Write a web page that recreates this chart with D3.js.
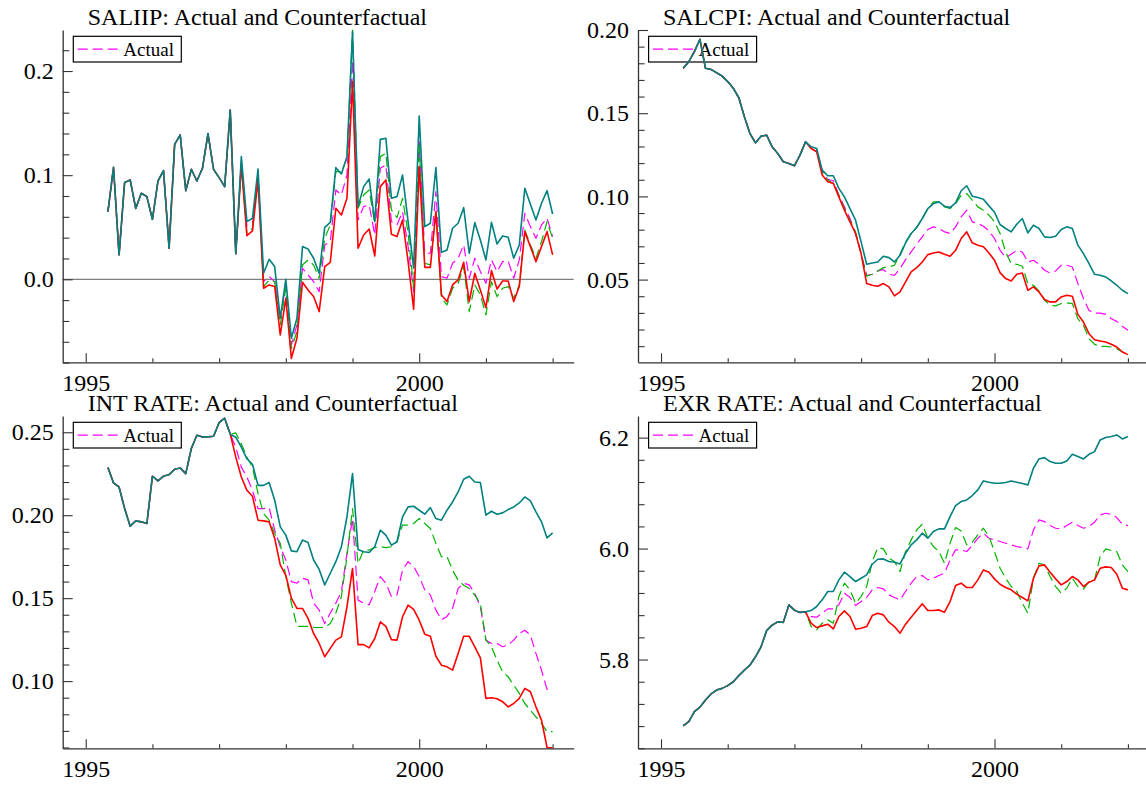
<!DOCTYPE html>
<html><head><meta charset="utf-8">
<script src="https://cdn.jsdelivr.net/npm/d3@7"></script>
<style>
body{margin:0;background:#fff}
svg{display:block;background:#fff}
text{font-family:"Liberation Serif","Times New Roman",serif;fill:#000}
</style>
</head><body>
<svg id="chart" width="1146" height="786"></svg>
<script>
// ---- time axis (monthly, 1995M5 .. 2002M1) ----
const startYear = 1995, startMonth = 5, nObs = 81;
const yearTicks = [1995, 1996, 1997, 1998, 1999, 2000, 2001, 2002];
const yearLabels = [1995, 2000];
const seriesNames = ["Actual", "", "", ""];

// ---- SALIIP ----
const saliipHist = [0.065,0.1075,0.0234,0.093,0.0954,0.068,0.0826,0.0794,0.0576,0.0944,
  0.1043,0.0298,0.1296,0.1386,0.0851,0.1056,0.0944,0.1066,0.140,0.1056,
  0.0976,0.089,0.1626,0.0245];
const saliipActual = [0.1130,0.0506,0.0522,0.1002,-0.0022,0.0026,-0.0022,-0.0374,-0.0054,-0.0630,
  -0.0438,0.0106,0.0042,-0.0022,-0.0118,0.0330,0.0362,0.0858,0.0810,0.1002,
  0.210,0.0570,0.0698,0.0714,0.0426,0.1066,0.1098,0.0554,0.0522,0.0650,
  0.0314,-0.0118,0.1322,0.0250,0.0250,0.0842,0.0026,0.0010,0.0154,0.0202,
  0.0330,0.0010,0.0202,0.0074,-0.0038,0.0186,0.0074,0.0170,0.0176,0.0010,
  0.0186,0.0634,0.0506,0.0394,0.0522,0.0586,0.0410];
const saliipCf1 = [0.1178,0.0554,0.0586,0.1059,0.0058,0.0192,0.0122,-0.0374,0.0,-0.0566,
  -0.0374,0.0314,0.0291,0.0202,0.0058,0.0499,0.0547,0.1072,0.1011,0.1178,
  0.2378,0.0698,0.0890,0.0963,0.0554,0.1344,0.1354,0.0778,0.0794,0.1002,
  0.0554,0.0106,0.1568,0.0506,0.0538,0.1072,0.0259,0.0282,0.0490,0.0538,
  0.0688,0.0250,0.0544,0.0378,0.0186,0.0547,0.0339,0.0416,0.0403,0.0202,
  0.0330,0.0874,0.0720,0.0570,0.0730,0.0851,0.0627];
const saliipCf2 = [0.1098,0.0419,0.0464,0.0954,-0.0086,-0.0054,-0.0070,-0.0534,-0.0182,-0.0759,
  -0.0566,-0.0029,-0.0102,-0.0166,-0.0310,0.0122,0.0163,0.0682,0.0618,0.0778,
  0.190,0.0298,0.0426,0.0483,0.0224,0.0890,0.0954,0.0432,0.0410,0.0570,
  0.0170,-0.0288,0.1082,0.0115,0.0115,0.0650,-0.0150,-0.0214,-0.0054,-0.0006,
  0.0163,-0.0214,0.0058,-0.0102,-0.0272,0.0083,-0.0093,-0.0016,-0.0016,-0.0214,
  -0.0070,0.0458,0.0314,0.0170,0.0314,0.0458,0.0234];
const saliipCf3 = [0.1098,0.0442,0.0490,0.1002,-0.0070,-0.0006,-0.0022,-0.0438,-0.0086,-0.0663,
  -0.0502,0.0138,0.0186,0.0138,0.0010,0.0394,0.0522,0.1034,0.1034,0.1162,
  0.2394,0.0682,0.0810,0.0858,0.0538,0.1178,0.1210,0.0666,0.0592,0.0778,
  0.0442,-0.0086,0.1290,0.0154,0.0138,0.0650,-0.0182,-0.0246,-0.0086,-0.0038,
  0.0120,-0.0310,-0.0054,-0.0150,-0.0342,-0.0022,-0.0166,-0.0086,-0.0070,-0.0182,
  -0.0054,0.0474,0.0330,0.0202,0.0362,0.0554,0.0394];

// ---- SALCPI ----
const salcpiHist = [0.177,0.181,0.187,0.1944,0.177,0.1763,0.1743,0.1723,0.169,0.165,
  0.1593,0.1479,0.1378,0.1322,0.1362,0.1368,0.1298,0.1258,0.1208,0.1198,
  0.1184,0.1248,0.1328];
const salcpiActual = [0.1294,0.1278,0.1148,0.1102,0.1094,0.1007,0.0937,0.0867,0.0777,0.0656,
  0.0526,0.0532,0.0552,0.0560,0.0532,0.0526,0.0566,0.0620,0.0666,0.0713,
  0.0757,0.0801,0.0817,0.0807,0.0787,0.0777,0.0817,0.0877,0.0917,0.0847,
  0.0837,0.0821,0.0793,0.0747,0.0676,0.0632,0.0652,0.0676,0.0666,0.0606,
  0.0616,0.0592,0.0556,0.0540,0.0552,0.0586,0.0586,0.0576,0.0476,0.0386,
  0.0315,0.0299,0.0299,0.0291,0.0265,0.0249,0.0219,0.0195];
const salcpiCf1 = [0.1298,0.1288,0.1158,0.1124,0.1124,0.1048,0.0997,0.0927,0.0857,0.0727,
  0.0592,0.0600,0.0606,0.0640,0.0632,0.0606,0.0646,0.0721,0.0777,0.0813,
  0.0867,0.0927,0.0957,0.0967,0.0941,0.0933,0.0961,0.1034,0.1064,0.1001,
  0.0993,0.0983,0.0943,0.0905,0.0831,0.0807,0.0787,0.0833,0.0867,0.0781,
  0.0827,0.0807,0.0757,0.0753,0.0761,0.0801,0.0817,0.0807,0.0707,0.0656,
  0.0596,0.0532,0.0526,0.0516,0.0492,0.0466,0.0436,0.0416];
const salcpiCf2 = [0.1288,0.1268,0.1128,0.1088,0.1078,0.0997,0.0917,0.0847,0.0777,0.0656,
  0.0476,0.0466,0.0460,0.0476,0.0456,0.0402,0.0426,0.0486,0.0546,0.0572,
  0.0606,0.0650,0.0660,0.0666,0.0652,0.0640,0.0676,0.0747,0.0787,0.0721,
  0.0707,0.0697,0.0660,0.0616,0.0542,0.0506,0.0492,0.0532,0.0540,0.0436,
  0.0456,0.0426,0.0380,0.0366,0.0366,0.0396,0.0406,0.0400,0.0291,0.0245,
  0.0175,0.0139,0.0131,0.0125,0.0111,0.0095,0.0065,0.0049];
const salcpiCf3 = [0.1294,0.1278,0.1148,0.1098,0.1078,0.1007,0.0927,0.0857,0.0787,0.0656,
  0.0520,0.0532,0.0552,0.0572,0.0576,0.0586,0.0652,0.0727,0.0777,0.0813,
  0.0867,0.0927,0.0967,0.0967,0.0937,0.0927,0.0957,0.1007,0.1017,0.0977,
  0.0937,0.0917,0.0887,0.0847,0.0777,0.0666,0.0596,0.0592,0.0580,0.0476,
  0.0466,0.0432,0.0376,0.0346,0.0342,0.0356,0.0360,0.0356,0.0265,0.0225,
  0.0145,0.0111,0.0099,0.0099,0.0095,0.0085,0.0065,0.0055];

// ---- INT RATE ----
const intHist = [0.2287,0.2195,0.217,0.204,0.1934,0.1966,0.196,0.195,0.2235,0.2207,
  0.2235,0.2245,0.2277,0.2285,0.2251,0.2402,0.2482,0.2472,0.2472,0.2476,
  0.2558,0.2585];
const intActual = [0.2488,0.241,0.229,0.223,0.215,0.204,0.204,0.2046,0.191,0.181,
  0.173,0.160,0.159,0.162,0.161,0.147,0.1428,0.1347,0.141,0.147,
  0.154,0.177,0.198,0.1488,0.147,0.146,0.154,0.163,0.159,0.151,
  0.152,0.1669,0.172,0.169,0.163,0.155,0.152,0.1428,0.137,0.139,
  0.1438,0.1558,0.159,0.158,0.1528,0.1448,0.1247,0.1227,0.1227,0.1207,
  0.1217,0.1247,0.1287,0.1307,0.1277,0.1167,0.1066,0.095,0.095];
const intCf1 = [0.2488,0.247,0.241,0.234,0.2307,0.218,0.218,0.2197,0.209,0.193,
  0.188,0.1785,0.178,0.185,0.1835,0.173,0.1673,0.158,0.165,0.172,
  0.181,0.199,0.2251,0.1793,0.178,0.1775,0.181,0.191,0.188,0.182,
  0.184,0.199,0.205,0.2054,0.203,0.2006,0.2046,0.198,0.197,0.203,
  0.208,0.214,0.2217,0.2235,0.220,0.2197,0.200,0.2024,0.2006,0.2014,
  0.2034,0.205,0.2074,0.211,0.2086,0.202,0.196,0.1863,0.1894];
const intCf2 = [0.249,0.235,0.223,0.215,0.2114,0.197,0.1966,0.196,0.186,0.170,
  0.1638,0.150,0.1438,0.1438,0.1378,0.1287,0.1227,0.1147,0.1197,0.1247,
  0.1267,0.1448,0.1679,0.122,0.122,0.120,0.1257,0.1357,0.133,0.125,
  0.1247,0.1388,0.1458,0.1432,0.1367,0.1283,0.127,0.115,0.1096,0.1086,
  0.1066,0.1167,0.127,0.127,0.1207,0.114,0.0896,0.090,0.0894,0.0876,
  0.0845,0.0865,0.0896,0.0956,0.0936,0.0845,0.0765,0.0600,0.0598];
const intCf3 = [0.2488,0.2496,0.243,0.235,0.229,0.213,0.201,0.197,0.189,0.183,
  0.163,0.147,0.133,0.133,0.133,0.1323,0.1323,0.1323,0.1347,0.141,
  0.151,0.175,0.204,0.1709,0.179,0.179,0.1805,0.181,0.1805,0.181,
  0.184,0.194,0.194,0.195,0.198,0.195,0.192,0.183,0.175,0.175,
  0.1669,0.1608,0.1578,0.1558,0.1518,0.1468,0.1247,0.1207,0.1127,0.1056,
  0.1026,0.0976,0.0926,0.0865,0.0825,0.0785,0.0745,0.0695,0.0695];

// ---- EXR RATE ----
const exrHist = [5.6805,5.688,5.706,5.714,5.727,5.738,5.745,5.748,5.753,5.760,
  5.771,5.781,5.790,5.805,5.823,5.852,5.862,5.868,5.867,5.8985,
  5.889,5.885,5.886];
const exrActual = [5.8775,5.8763,5.8835,5.8913,5.8913,5.8986,5.9196,5.9118,5.8974,5.9046,
  5.9118,5.9256,5.9298,5.9274,5.9166,5.9118,5.9076,5.9226,5.9376,5.9496,
  5.9514,5.9436,5.9466,5.9514,5.9556,5.9796,5.9977,5.9977,5.9947,6.0055,
  6.0187,6.0277,6.0187,6.0157,6.0127,6.0097,6.0067,6.0037,6.0019,5.9995,
  6.0337,6.0517,6.0487,6.0415,6.0367,6.0355,6.0415,6.0475,6.0415,6.0367,
  6.0397,6.0475,6.0607,6.0637,6.0619,6.0559,6.0439,6.0415];
const exrCf1 = [5.8883,5.8956,5.9076,5.9226,5.9226,5.9436,5.9574,5.9496,5.9406,5.9466,
  5.9526,5.9718,5.9808,5.9814,5.9766,5.9754,5.9724,5.9917,6.0067,6.0157,
  6.0277,6.0187,6.0307,6.0355,6.0355,6.0577,6.0775,6.0847,6.0877,6.0956,
  6.1058,6.1220,6.1196,6.1178,6.1178,6.1190,6.1220,6.1196,6.1172,6.1148,
  6.1448,6.1616,6.1640,6.1568,6.1538,6.1538,6.1580,6.1700,6.1658,6.1616,
  6.1700,6.1748,6.1959,6.2001,6.2019,6.2049,6.1977,6.2019];
const exrCf2 = [5.8655,5.8577,5.8607,5.8637,5.8553,5.8775,5.8877,5.8775,5.8547,5.8565,
  5.8595,5.8793,5.8835,5.8805,5.8673,5.8595,5.8475,5.8637,5.8763,5.8883,
  5.9004,5.8883,5.8883,5.8895,5.8853,5.9046,5.9334,5.9376,5.9298,5.9298,
  5.9436,5.9616,5.9574,5.9454,5.9358,5.9298,5.9256,5.9178,5.9118,5.9058,
  5.9466,5.9688,5.9706,5.9574,5.9454,5.9346,5.9406,5.9496,5.9436,5.9316,
  5.9394,5.9436,5.9646,5.9670,5.9658,5.9538,5.9286,5.9256];
const exrCf3 = [5.8595,5.8535,5.8655,5.8715,5.8655,5.9136,5.9376,5.9256,5.9016,5.9136,
  5.9316,5.9766,6.0019,5.9995,5.9826,5.9766,5.9586,5.9947,6.0157,6.0337,
  6.0439,6.0187,6.0037,5.9947,5.9736,6.0097,6.0379,6.0319,6.0067,6.0115,
  6.0247,6.0367,6.0217,5.9947,5.9646,5.9466,5.9316,5.9226,5.9016,5.8835,
  5.9466,5.9736,5.9706,5.9496,5.9316,5.9196,5.9286,5.9466,5.9316,5.9268,
  5.9406,5.9436,5.9856,5.9995,5.9965,5.9947,5.9706,5.9586];

// ---- axis ticks ----
const saliipMajor = [0.0, 0.1, 0.2];
const saliipMinor = [-0.08,-0.06,-0.04,-0.02,0.02,0.04,0.06,0.08,0.12,0.14,0.16,0.18,0.22];
const salcpiMajor = [0.05, 0.10, 0.15, 0.20];
const salcpiMinor = [0.01,0.02,0.03,0.04,0.06,0.07,0.08,0.09,0.11,0.12,0.13,0.14,0.16,0.17,0.18,0.19];
const intMajor = [0.10, 0.15, 0.20, 0.25];
const intMinor = [0.06,0.07,0.08,0.09,0.11,0.12,0.13,0.14,0.16,0.17,0.18,0.19,0.21,0.22,0.23,0.24];
const exrMajor = [5.8, 6.0, 6.2];
const exrMinor = [5.64,5.68,5.72,5.76,5.84,5.88,5.92,5.96,6.04,6.08,6.12,6.16];

// ---- styles ----
const seriesColors = ["#ff00ff", "#008080", "#ff0000", "#00b400"];
const seriesDash = ["10,5", null, null, "10,5"];
const seriesWidth = [1.2, 1.6, 1.6, 1.2];
const drawOrder = [0, 3, 2, 1];

const times = d3.range(nObs).map(i => startYear + (startMonth - 1 + i) / 12);

const panels = [
  {title: "SALIIP: Actual and Counterfactual", hist: saliipHist,
   series: [saliipActual, saliipCf1, saliipCf2, saliipCf3],
   yDomain: [-0.0797, 0.2394], major: saliipMajor, minor: saliipMinor, fmt: d3.format(".1f"),
   zero: true, left: 62.7, top: 30},
  {title: "SALCPI: Actual and Counterfactual", hist: salcpiHist,
   series: [salcpiActual, salcpiCf1, salcpiCf2, salcpiCf3],
   yDomain: [0.0003, 0.2], major: salcpiMajor, minor: salcpiMinor, fmt: d3.format(".2f"),
   zero: false, left: 638, top: 30},
  {title: "INT RATE: Actual and Counterfactual", hist: intHist,
   series: [intActual, intCf1, intCf2, intCf3],
   yDomain: [0.0595, 0.2598], major: intMajor, minor: intMinor, fmt: d3.format(".2f"),
   zero: false, left: 62.7, top: 416},
  {title: "EXR RATE: Actual and Counterfactual", hist: exrHist,
   series: [exrActual, exrCf1, exrCf2, exrCf3],
   yDomain: [5.640, 6.239], major: exrMajor, minor: exrMinor, fmt: d3.format(".1f"),
   zero: false, left: 638, top: 416}
];

const W = 511, H = 332.3;
const svg = d3.select("#chart");
svg.append("rect").attr("width", 1146).attr("height", 786).attr("fill", "#fff");

panels.forEach(p => {
  const g = svg.append("g").attr("transform", `translate(${p.left},${p.top})`);
  const x = d3.scaleLinear().domain([1994.655, 2002.316]).range([0, W]);
  const y = d3.scaleLinear().domain(p.yDomain).range([H, 0]);

  // title
  g.append("text").attr("x", 25).attr("y", -5).attr("font-size", 24).text(p.title);

  // zero line
  if (p.zero) {
    g.append("line").attr("x1", 0).attr("x2", W).attr("y1", y(0)).attr("y2", y(0))
      .attr("stroke", "#808080").attr("stroke-width", 1.2);
  }

  // legend
  const lg = g.append("g");
  lg.append("rect").attr("x", 10.6).attr("y", 6.3).attr("width", 108).attr("height", 25.7)
    .attr("fill", "none").attr("stroke", "#000").attr("stroke-width", 1.2);
  lg.append("line").attr("x1", 15).attr("x2", 56).attr("y1", 19.2).attr("y2", 19.2)
    .attr("stroke", seriesColors[0]).attr("stroke-width", 1.2).attr("stroke-dasharray", seriesDash[0]);
  lg.append("text").attr("x", 60.6).attr("y", 25.8).attr("font-size", 19).text(seriesNames[0]);

  // lines
  const line = d3.line().x(d => x(d[0])).y(d => y(d[1]));
  drawOrder.forEach(k => {
    const vals = p.hist.concat(p.series[k]);
    const pts = vals.map((v, i) => [times[i], v]);
    g.append("path").attr("d", line(pts)).attr("fill", "none")
      .attr("stroke", seriesColors[k]).attr("stroke-width", seriesWidth[k])
      .attr("stroke-linejoin", "round")
      .attr("stroke-dasharray", seriesDash[k]);
  });

  // y axis
  const ya = g.append("g").call(d3.axisLeft(y).tickValues(p.major).tickFormat(p.fmt)
      .tickSize(-10).tickSizeOuter(0).tickPadding(9));
  const ym = g.append("g").call(d3.axisLeft(y).tickValues(p.minor).tickFormat("")
      .tickSize(-6.6).tickSizeOuter(0));
  ym.select(".domain").remove();
  // x axis
  const xa = g.append("g").attr("transform", `translate(0,${H})`)
    .call(d3.axisBottom(x).tickValues(yearLabels).tickFormat(d3.format("d"))
      .tickSize(-9).tickSizeOuter(0).tickPadding(11.5));
  const xm = g.append("g").attr("transform", `translate(0,${H})`)
    .call(d3.axisBottom(x).tickValues(yearTicks.filter(t => !yearLabels.includes(t))).tickFormat("")
      .tickSize(-4).tickSizeOuter(0));
  xm.select(".domain").remove();

  [ya, ym, xa, xm].forEach(a => {
    a.selectAll(".domain").attr("stroke", "#333").attr("stroke-width", 1.3);
    a.selectAll(".tick line").attr("stroke", "#333").attr("stroke-width", 1.1);
    a.selectAll(".tick text").attr("font-size", 24)
      .attr("font-family", '"Liberation Serif","Times New Roman",serif').attr("fill", "#000");
  });
});
</script>
</body></html>
